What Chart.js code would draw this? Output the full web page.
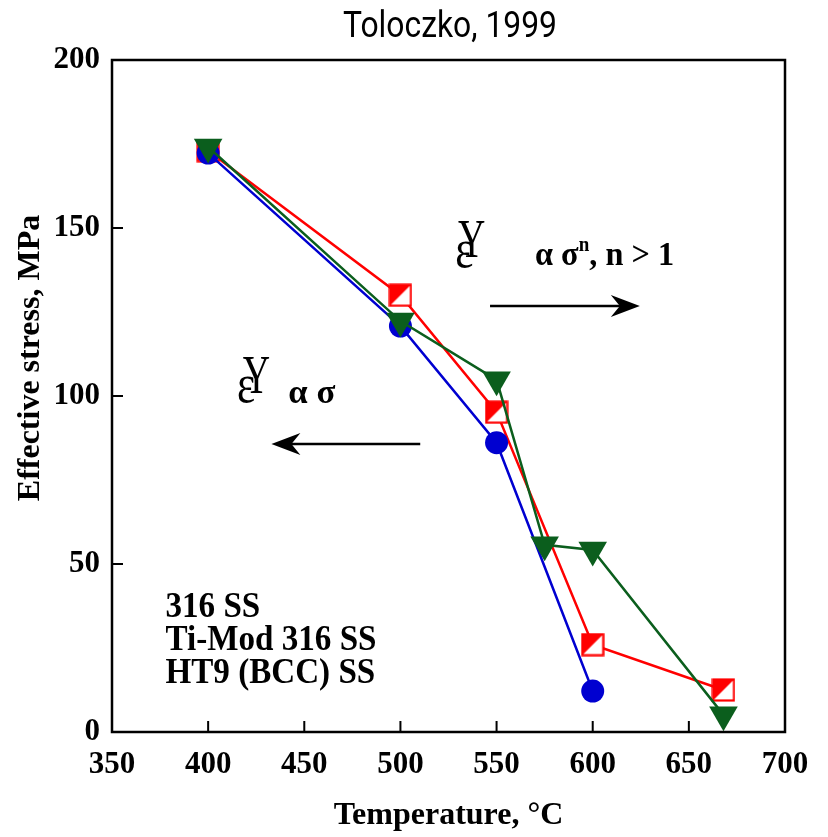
<!DOCTYPE html>
<html>
<head>
<meta charset="utf-8">
<script src="https://cdn.jsdelivr.net/npm/chart.js@4.4.1/dist/chart.umd.min.js"></script>
<style>
  html, body { margin: 0; padding: 0; background: #fff; }
  canvas { display: block; }
</style>
</head>
<body>
<canvas id="chart" width="828" height="837"></canvas>
<script>
// ---------- Data (Toloczko, 1999)
const seriesNames = ['316 SS', 'Ti-Mod 316 SS', 'HT9 (BCC) SS'];
const temps316 = [400, 500, 550, 600];
const stress316 = [172.3, 120.8, 86.1, 12.2];
const tempsTiMod = [400, 500, 550, 600, 668];
const stressTiMod = [173, 130, 95.2, 26, 12.5];
const tempsHT9 = [400, 500, 550, 575, 600, 668];
const stressHT9 = [174.1, 122.3, 104.8, 55.7, 54.2, 5.1];
const xTickValues = [350, 400, 450, 500, 550, 600, 650, 700];
const yTickValues = [0, 50, 100, 150, 200];

const SERIF = '"Liberation Serif", "Times New Roman", serif';
const BLUE = '#0000d0', RED = '#ff0000', GREEN = '#0b5e1d';

// ---------- Helpers
function toPoints(xs, ys){ return xs.map((x,i)=>({x, y: ys[i]})); }

// square with upper-left half filled
function halfSquare(size, color){
  const c = document.createElement('canvas'); c.width = c.height = size;
  const g = c.getContext('2d');
  g.fillStyle = '#fff'; g.fillRect(1, 1, size-2, size-2);
  g.fillStyle = color;
  g.beginPath(); g.moveTo(1,1); g.lineTo(size-1,1); g.lineTo(1,size-1); g.closePath(); g.fill();
  g.strokeStyle = color; g.lineWidth = 2.2; g.strokeRect(1.5, 1.5, size-3, size-3);
  return c;
}

function drawText(ctx, text, x, y, font, sx){
  ctx.save();
  ctx.font = font;
  ctx.translate(x, y);
  ctx.scale(sx || 1, 1);
  ctx.fillText(text, 0, 0);
  ctx.restore();
}

function drawArrow(ctx, x0, x1, y){
  const dir = Math.sign(x1 - x0), head = 29, half = 11, notch = 9;
  ctx.save();
  ctx.strokeStyle = '#000'; ctx.fillStyle = '#000'; ctx.lineWidth = 2.5;
  ctx.beginPath(); ctx.moveTo(x0, y); ctx.lineTo(x1 - dir*notch, y); ctx.stroke();
  ctx.beginPath();
  ctx.moveTo(x1, y);
  ctx.lineTo(x1 - dir*head, y - half);
  ctx.lineTo(x1 - dir*(head - notch), y);
  ctx.lineTo(x1 - dir*head, y + half);
  ctx.closePath(); ctx.fill();
  ctx.restore();
}

// "alpha sigma^n, n > 1" style label, squeezed to a target width
function drawRelation(ctx, x, y, parts, width){
  ctx.save();
  let total = 0;
  parts.forEach(p => { ctx.font = p.font; total += ctx.measureText(p.t).width; });
  const sx = width / total;
  ctx.translate(x, y); ctx.scale(sx, 1);
  let cx = 0;
  parts.forEach(p => { ctx.font = p.font; ctx.fillText(p.t, cx, -(p.rise||0)); cx += ctx.measureText(p.t).width; });
  ctx.restore();
}

// ---------- Frame, inward ticks, titles and annotations
const decorations = {
  id: 'decorations',
  afterDraw(chart){
    const {ctx, chartArea: a, scales: {x, y}} = chart;
    ctx.save();
    ctx.strokeStyle = '#000';
    ctx.lineWidth = 2.5;
    ctx.strokeRect(a.left, a.top, a.right - a.left, a.bottom - a.top);
    ctx.lineWidth = 2;
    ctx.beginPath();
    x.ticks.forEach(t => { if (t.value > x.min && t.value < x.max){ const p = x.getPixelForValue(t.value); ctx.moveTo(p, a.bottom); ctx.lineTo(p, a.bottom - 11); } });
    y.ticks.forEach(t => { if (t.value > y.min && t.value < y.max){ const p = y.getPixelForValue(t.value); ctx.moveTo(a.left, p); ctx.lineTo(a.left + 11, p); } });
    ctx.stroke();

    ctx.fillStyle = '#000';
    ctx.textBaseline = 'alphabetic';
    ctx.textAlign = 'left';

    // chart title (narrow sans)
    ctx.font = '36px Roboto, "Liberation Sans", sans-serif';
    const tw = ctx.measureText('Toloczko, 1999').width;
    drawText(ctx, 'Toloczko, 1999', 450 - 107, 37, ctx.font, 214 / tw);

    // y axis title
    ctx.save();
    ctx.translate(31, 358);
    ctx.rotate(-Math.PI/2);
    ctx.textAlign = 'center'; ctx.textBaseline = 'middle';
    ctx.font = 'bold 32px ' + SERIF;
    ctx.fillText('Effective stress, MPa', 0, 0);
    ctx.restore();

    // creep-rate annotations, placed in data units
    const X = v => x.getPixelForValue(v), Y = v => y.getPixelForValue(v);
    drawText(ctx, 'ε', X(528.5), Y(138.3), '54px ' + SERIF, 0.8);
    drawText(ctx, 'Y', X(530), Y(141.4), '54px ' + SERIF, 0.7);
    drawRelation(ctx, X(570), Y(139), [
      {t:'α σ', font:'bold 34px ' + SERIF},
      {t:'n', font:'bold 20px ' + SERIF, rise: 14},
      {t:', n > 1', font:'bold 34px ' + SERIF}
    ], 139);
    drawArrow(ctx, X(546.6), X(624.5), Y(126.8));

    drawText(ctx, 'ε', X(415), Y(98.2), '54px ' + SERIF, 0.8);
    drawText(ctx, 'Y', X(418), Y(100.9), '54px ' + SERIF, 0.7);
    drawRelation(ctx, X(441.7), Y(97.9), [
      {t:'α σ', font:'bold 34px ' + SERIF}
    ], 47);
    drawArrow(ctx, X(510.3), X(432.9), Y(85.7));

    // series names (legend without symbols, as in the source)
    const legendY = [34.2, 24.4, 14.6];
    seriesNames.forEach((n, i) => drawText(ctx, n, X(377.8), Y(legendY[i]), 'bold 36px ' + SERIF, 0.92));
    ctx.restore();
  }
};

// ---------- Chart
const tickFont = {family: SERIF, size: 31, weight: 'bold'};
const chart = new Chart(document.getElementById('chart'), {
  type: 'scatter',
  data: {
    datasets: [
      {label: seriesNames[0], data: toPoints(temps316, stress316), showLine: true, order: 1,
       borderColor: BLUE, backgroundColor: BLUE, borderWidth: 2.5,
       pointStyle: 'circle', pointRadius: 11.5, pointBorderWidth: 0, clip: false},
      {label: seriesNames[1], data: toPoints(tempsTiMod, stressTiMod), showLine: true, order: 2,
       borderColor: RED, backgroundColor: RED, borderWidth: 2.5,
       pointStyle: halfSquare(24, RED), clip: false},
      {label: seriesNames[2], data: toPoints(tempsHT9, stressHT9), showLine: true, order: 0,
       borderColor: GREEN, backgroundColor: GREEN, borderWidth: 2.5,
       pointStyle: 'triangle', pointRotation: 180, pointRadius: 16.5, pointBorderWidth: 0, clip: false}
    ]
  },
  options: {
    responsive: false,
    animation: false,
    devicePixelRatio: 1,
    layout: {padding: {top: 60, right: 43, left: 0, bottom: 0}},
    plugins: {legend: {display: false}, tooltip: {enabled: false}, title: {display: false}},
    scales: {
      x: {
        type: 'linear', min: 350, max: 700,
        afterBuildTicks: s => { s.ticks = xTickValues.map(v => ({value: v})); },
        afterFit: s => { s.height = 105; },
        grid: {display: false, drawTicks: false},
        border: {display: false},
        ticks: {font: tickFont, color: '#000', padding: 14, maxRotation: 0, autoSkip: false},
        title: {display: true, text: 'Temperature, °C', color: '#000',
                font: {family: SERIF, size: 32, weight: 'bold'}, padding: {top: 0, bottom: 2}}
      },
      y: {
        type: 'linear', min: 0, max: 200,
        afterBuildTicks: s => { s.ticks = yTickValues.map(v => ({value: v})); },
        afterFit: s => { s.width = 112; },
        grid: {display: false, drawTicks: false},
        border: {display: false},
        ticks: {font: tickFont, color: '#000', padding: 12, autoSkip: false},
        title: {display: false}
      }
    }
  },
  plugins: [decorations]
});
</script>
</body>
</html>
